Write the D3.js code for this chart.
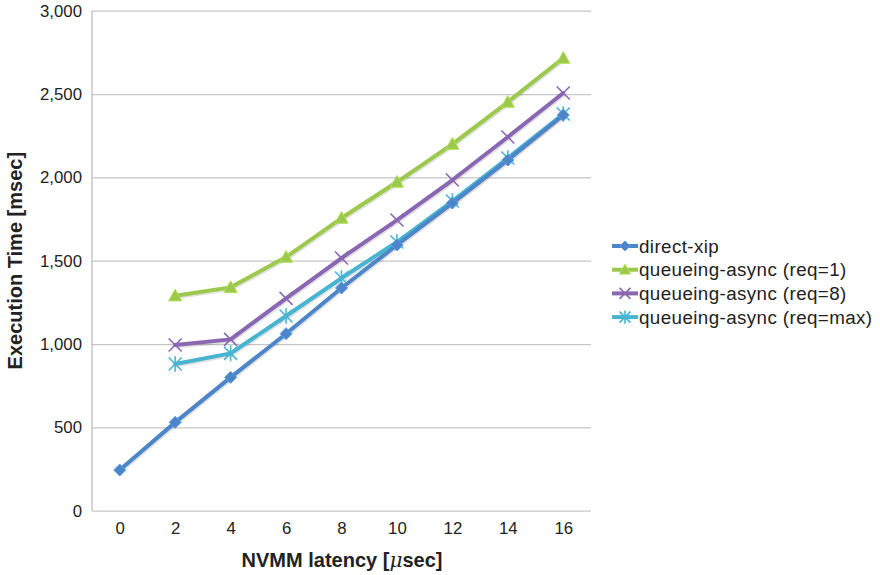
<!DOCTYPE html>
<html>
<head>
<meta charset="utf-8">
<script src="https://cdn.jsdelivr.net/npm/d3@7"></script>
<style>
  html, body { margin: 0; padding: 0; background: #fff; }
  svg { display: block; font-family: "Liberation Sans", Arial, Helvetica, sans-serif; }
</style>
</head>
<body>
<svg id="chart" width="880" height="575"></svg>
<script>
// NVMM latency values (µsec) on the x axis
const latencies = ["0", "2", "4", "6", "8", "10", "12", "14", "16"];
const yTicks = [0, 500, 1000, 1500, 2000, 2500, 3000];

// Execution time (msec); null where a configuration was not measured
const directXip      = [244, 530, 800, 1062, 1336, 1594, 1846, 2104, 2374];
const queueReq1      = [null, 1290, 1340, 1522, 1756, 1972, 2200, 2452, 2716];
const queueReq8      = [null, 994, 1028, 1274, 1516, 1744, 1984, 2242, 2506];
const queueReqMax    = [null, 880, 944, 1168, 1396, 1612, 1858, 2116, 2380];

const seriesNames  = ["direct-xip", "queueing-async (req=1)", "queueing-async (req=8)", "queueing-async (req=max)"];
const seriesValues = [directXip, queueReq1, queueReq8, queueReqMax];
const seriesColors = ["#4c86c9", "#9cc84b", "#8a67b2", "#47b4d2"];
const seriesMarks  = ["diamond", "triangle", "cross", "star"];

const svg = d3.select("#chart");
const plot = { left: 92, right: 591, top: 10.7, bottom: 510.7 };

const x = d3.scalePoint().domain(latencies).range([plot.left, plot.right]).padding(0.5);
const y = d3.scaleLinear().domain([0, 3000]).range([plot.bottom, plot.top]);

// horizontal gridlines with value labels
const yAxis = d3.axisLeft(y).tickValues(yTicks).tickFormat(d3.format(",")).tickSize(-(plot.right - plot.left));
const gy = svg.append("g").attr("transform", `translate(${plot.left},0)`).call(yAxis);
gy.select(".domain").remove();
gy.selectAll(".tick line").attr("stroke", "#c6c6c6").attr("stroke-width", 1.2);
gy.selectAll(".tick text").attr("fill", "#222").attr("font-size", 16.8).attr("x", -10);

// left axis line
svg.append("line")
  .attr("x1", plot.left).attr("x2", plot.left)
  .attr("y1", plot.top).attr("y2", plot.bottom)
  .attr("stroke", "#b8b8b8").attr("stroke-width", 1.2);

// x axis labels
const xAxis = d3.axisBottom(x).tickSize(0).tickPadding(11);
const gx = svg.append("g").attr("transform", `translate(0,${plot.bottom})`).call(xAxis);
gx.select(".domain").remove();
gx.selectAll(".tick text").attr("fill", "#222").attr("font-size", 16.8);

// axis titles
const xTitle = svg.append("text")
  .attr("x", 342).attr("y", 567)
  .attr("text-anchor", "middle")
  .attr("font-size", 20).attr("font-weight", "bold").attr("fill", "#222");
xTitle.append("tspan").text("NVMM latency [");
xTitle.append("tspan").attr("font-style", "italic").attr("font-weight", "normal")
  .attr("font-family", "'DejaVu Serif', serif").text("\u03bc");
xTitle.append("tspan").text("sec]");

svg.append("text")
  .attr("transform", `translate(22,${(plot.top + plot.bottom) / 2}) rotate(-90)`)
  .attr("text-anchor", "middle")
  .attr("font-size", 20).attr("font-weight", "bold").attr("fill", "#222")
  .text("Execution Time [msec]");

// marker shapes
function drawMarker(g, kind, color, cx, cy, s) {
  if (kind === "diamond") {
    g.append("path")
      .attr("d", `M${cx},${cy - s}L${cx + s},${cy}L${cx},${cy + s}L${cx - s},${cy}Z`)
      .attr("fill", color).attr("stroke", d3.color(color).brighter(0.4)).attr("stroke-width", 1);
  } else if (kind === "triangle") {
    g.append("path")
      .attr("d", `M${cx},${cy - s}L${cx + s},${cy + s * 0.8}L${cx - s},${cy + s * 0.8}Z`)
      .attr("fill", color).attr("stroke", d3.color(color).brighter(0.3)).attr("stroke-width", 1);
  } else if (kind === "cross") {
    g.append("path")
      .attr("d", `M${cx - s},${cy - s}L${cx + s},${cy + s}M${cx - s},${cy + s}L${cx + s},${cy - s}`)
      .attr("stroke", color).attr("stroke-width", 1.6).attr("fill", "none");
  } else {
    g.append("path")
      .attr("d", `M${cx - s},${cy - s}L${cx + s},${cy + s}M${cx - s},${cy + s}L${cx + s},${cy - s}M${cx},${cy - s * 1.2}L${cx},${cy + s * 1.2}`)
      .attr("stroke", color).attr("stroke-width", 1.6).attr("fill", "none");
  }
}

const line = d3.line()
  .defined(d => d.v !== null)
  .x(d => x(d.k))
  .y(d => y(d.v));

const series = seriesNames.map((name, i) => ({
  name,
  color: seriesColors[i],
  mark: seriesMarks[i],
  points: latencies.map((k, j) => ({ k, v: seriesValues[i][j] }))
}));

// draw series so the baseline series is on top of the rest
const order = [1, 2, 3, 0];
order.forEach(i => {
  const s = series[i];
  const g = svg.append("g");
  // soft shadow under each line
  g.append("path")
    .datum(s.points)
    .attr("d", line)
    .attr("transform", "translate(1,1.5)")
    .attr("fill", "none")
    .attr("stroke", "rgba(0,0,0,0.12)")
    .attr("stroke-width", 4)
    .attr("stroke-linejoin", "round");
  g.append("path")
    .datum(s.points)
    .attr("d", line)
    .attr("fill", "none")
    .attr("stroke", s.color)
    .attr("stroke-width", 4)
    .attr("stroke-linejoin", "round")
    .attr("stroke-linecap", "round");
  s.points.filter(p => p.v !== null).forEach(p => {
    drawMarker(g, s.mark, s.color, x(p.k), y(p.v), s.mark === "diamond" ? 6 : 6.5);
  });
});

// legend
const legend = svg.append("g").attr("transform", "translate(612,246)");
series.forEach((s, i) => {
  const g = legend.append("g").attr("transform", `translate(0,${i * 23.7})`);
  g.append("line").attr("x1", 0).attr("x2", 26).attr("y1", 0).attr("y2", 0)
    .attr("stroke", s.color).attr("stroke-width", 4);
  drawMarker(g, s.mark, s.color, 13, 0, s.mark === "diamond" ? 5 : 5.5);
  g.append("text")
    .attr("x", 27).attr("y", 0).attr("dy", "0.36em")
    .attr("font-size", 18.8).attr("letter-spacing", 0.4).attr("fill", "#222")
    .text(s.name);
});
</script>
</body>
</html>
